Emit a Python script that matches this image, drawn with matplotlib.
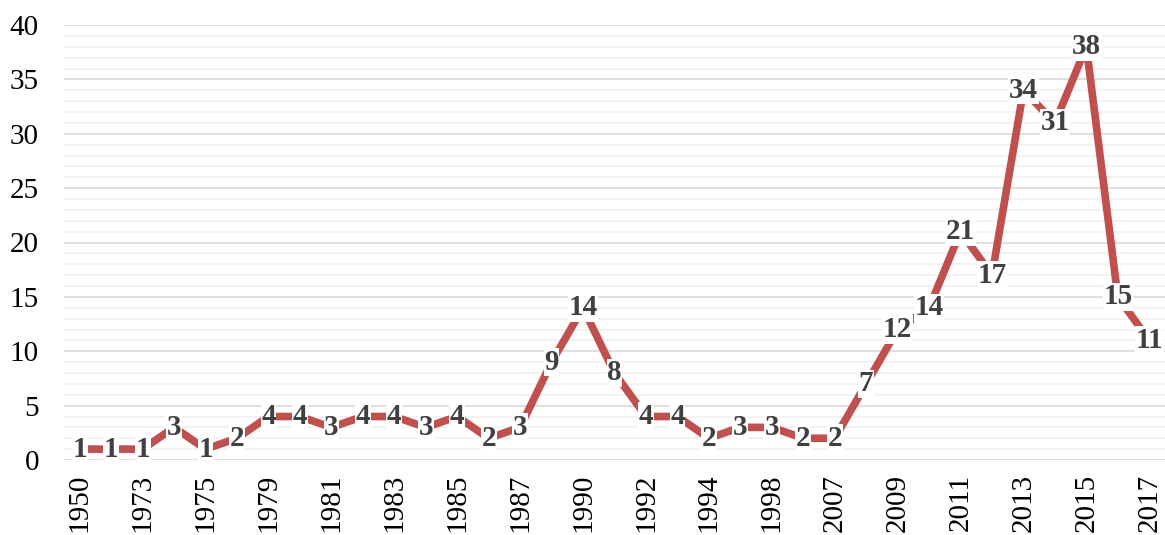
import matplotlib.pyplot as plt
from matplotlib.ticker import MultipleLocator

years = ['1950', '1972', '1973', '1974', '1975', '1978', '1979', '1980', '1981',
         '1982', '1983', '1984', '1985', '1986', '1987', '1989', '1990', '1991',
         '1992', '1993', '1994', '1997', '1998', '2000', '2007', '2008', '2009',
         '2010', '2011', '2012', '2013', '2014', '2015', '2016', '2017']
counts = [1, 1, 1, 3, 1, 2, 4, 4, 3, 4, 4, 3, 4, 2, 3, 9, 14, 8, 4, 4, 2, 3, 3,
          2, 2, 7, 12, 14, 21, 17, 34, 31, 38, 15, 11]

plt.rcParams['font.family'] = ['Liberation Serif', 'DejaVu Serif']

fig = plt.figure(figsize=(11.65, 5.35), dpi=100)
ax = fig.add_axes([64 / 1165, 75 / 535, 1101 / 1165, 435 / 535])

x = list(range(len(years)))
ax.plot(x, counts, color='#C0504D', linewidth=5.5, solid_capstyle='butt', zorder=3)

# value labels sit on the points with a white box behind them
for xi, v in zip(x, counts):
    ax.text(xi, v, str(v), ha='center', va='center', fontsize=21, fontweight='bold',
            color='#404040', zorder=4,
            bbox=dict(facecolor='white', edgecolor='none', pad=0.5))

ax.set_xlim(-0.5, len(years) - 0.5)
ax.set_ylim(0, 40)
ax.yaxis.set_major_locator(MultipleLocator(5))
ax.yaxis.set_minor_locator(MultipleLocator(1))
ax.grid(axis='y', which='major', color='#D9D9D9', linewidth=1.2, zorder=1)
ax.grid(axis='y', which='minor', color='#F0F0F0', linewidth=1.2, zorder=1)
ax.set_axisbelow(True)

ax.set_xticks(x)
ax.set_xticklabels([y if i % 2 == 0 else '' for i, y in enumerate(years)],
                   rotation=90, fontsize=21, color='black')
ax.tick_params(axis='y', labelsize=21, which='both', length=0, pad=18)
ax.tick_params(axis='x', length=0, pad=10)
for s in ax.spines.values():
    s.set_visible(False)

fig.savefig('out.png', dpi=100)
